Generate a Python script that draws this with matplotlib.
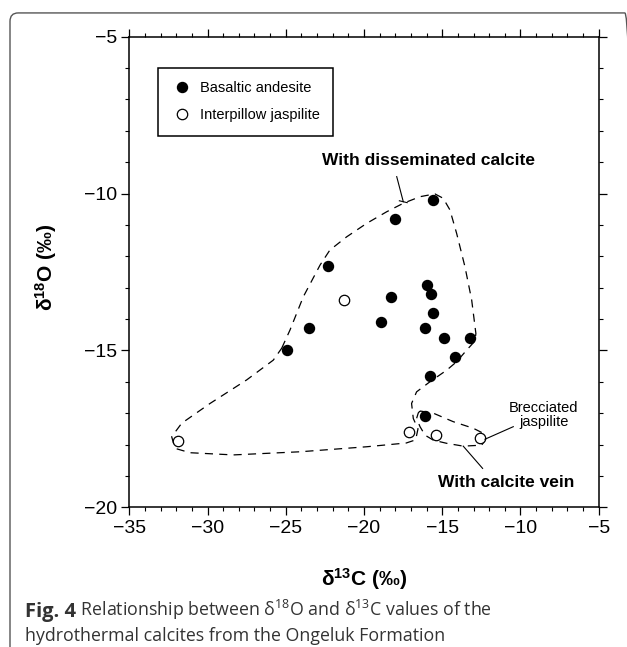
import numpy as np
import matplotlib
matplotlib.use('Agg')
import matplotlib.pyplot as plt
from matplotlib.patches import FancyBboxPatch
from matplotlib.ticker import MultipleLocator

plt.rcParams['font.family'] = ['Liberation Sans', 'DejaVu Sans']
plt.rcParams['mathtext.default'] = 'regular'

# 玄武安山岩 (filled) / 枕间碧玉岩 (open)
basalt_c = [-15.6, -18.0, -22.3, -16.0, -15.7, -18.3, -15.6, -18.9,
            -23.5, -16.1, -14.9, -13.2, -24.9, -14.2, -15.8, -16.1]
basalt_o = [-10.2, -10.8, -12.3, -12.9, -13.2, -13.3, -13.8, -14.1,
            -14.3, -14.3, -14.6, -14.6, -15.0, -15.2, -15.8, -17.1]
jasp_c = [-21.3, -31.9, -17.1, -15.4, -12.6]
jasp_o = [-13.4, -17.9, -17.6, -17.7, -17.8]

# 包络线
outer_c = [-25.26, -24.73, -23.88, -22.81, -22.18, -21.11, -19.83, -18.55,
           -17.49, -16.42, -15.47, -14.94, -14.51, -14.08, -13.55, -13.12,
           -12.85, -12.91, -13.44, -14.08, -14.72, -15.79, -16.64, -16.96,
           -16.85, -16.55, -16.70, -17.30, -19.83, -24.09, -28.35, -31.12,
           -32.08, -32.29, -31.65, -29.84, -27.50, -25.80, -25.26]
outer_o = [-14.93, -14.35, -13.29, -12.28, -11.80, -11.38, -10.95, -10.58,
           -10.31, -10.10, -10.01, -10.15, -10.52, -11.27, -12.33, -13.39,
           -14.46, -14.70, -14.99, -15.36, -15.63, -16.00, -16.32, -16.69,
           -17.17, -17.50, -17.85, -17.95, -18.07, -18.23, -18.33, -18.26,
           -18.12, -17.75, -17.32, -16.69, -15.94, -15.31, -14.93]
vein_c = [-16.42, -15.57, -14.30, -13.02, -12.38, -12.27, -12.48, -13.66,
          -14.72, -15.57, -16.10, -16.42, -16.64, -16.53, -16.42]
vein_o = [-16.93, -17.00, -17.27, -17.48, -17.64, -17.86, -18.02, -18.05,
          -17.96, -17.86, -17.70, -17.43, -17.17, -16.99, -16.93]

# 标注
dissem_text = (-15.9, -8.95)
dissem_line = ([-17.91, -17.49], [-9.46, -10.26])
brec_text = (-8.5, -17.05)
brec_line = ([-10.46, -12.27], [-17.43, -17.83])
vein_text = (-10.9, -19.2)
vein_line = ([-12.42, -13.66], [-18.76, -18.05])

fig = plt.figure(figsize=(6.27, 6.47), dpi=100)
ax = fig.add_axes([0.2062, 0.2159, 0.7487, 0.7274])

dash = (0, (6.5, 5))
ax.plot(outer_c, outer_o, color='black', lw=0.9, linestyle=dash)
ax.plot(vein_c, vein_o, color='black', lw=0.9, linestyle=dash)

ax.plot(basalt_c, basalt_o, 'o', color='black', ms=7.2, ls='none',
        label='Basaltic andesite')
ax.plot(jasp_c, jasp_o, 'o', mfc='white', mec='black', mew=0.9, ms=7.5,
        ls='none', label='Interpillow jaspilite')

ax.text(*dissem_text, 'With disseminated calcite', fontsize=12.5,
        fontweight='bold', ha='center', va='center')
ax.plot(*dissem_line, color='black', lw=0.8)
ax.plot([dissem_line[0][1] - 0.25, dissem_line[0][1] + 0.25],
        [dissem_line[1][1] + 0.03, dissem_line[1][1] - 0.03], color='black', lw=0.8)
ax.text(*brec_text, 'Brecciated\njaspilite', fontsize=10.5, ha='center',
        va='center', linespacing=1.0)
ax.plot(*brec_line, color='black', lw=0.8)
ax.text(*vein_text, 'With calcite vein', fontsize=12.5, fontweight='bold',
        ha='center', va='center')
ax.plot(*vein_line, color='black', lw=0.8)

ax.set_xlim(-35, -5)
ax.set_ylim(-20, -5)
ax.xaxis.set_major_locator(MultipleLocator(5))
ax.xaxis.set_minor_locator(MultipleLocator(1))
ax.yaxis.set_major_locator(MultipleLocator(5))
ax.yaxis.set_minor_locator(MultipleLocator(1))
ax.tick_params(which='both', direction='out', top=True, right=True,
               labelsize=14, pad=3)
ax.tick_params(which='major', length=6, width=0.9)
ax.tick_params(which='minor', length=3, width=0.8)
for s in ax.spines.values():
    s.set_linewidth(1.1)

ax.set_xlabel('δ$^{13}$C (‰)', fontsize=15, fontweight='bold')
ax.set_ylabel('δ$^{18}$O (‰)', fontsize=15, fontweight='bold')
ax.xaxis.set_label_coords(0.5, -0.125)
ax.yaxis.set_label_coords(-0.15, 0.51)

leg = ax.legend(loc='upper left', bbox_to_anchor=(0.0605, 0.933),
                borderaxespad=0, fancybox=False, edgecolor='black',
                fontsize=10.5, borderpad=0.9, handlelength=1.6,
                handletextpad=0.4, labelspacing=0.9, numpoints=1,
                framealpha=1)
leg.get_frame().set_linewidth(1.1)

# 外框
border = FancyBboxPatch((10 / 627, -0.05), 623 / 627, 0.98 + 0.05,
                        boxstyle='round,pad=0,rounding_size=0.013',
                        transform=fig.transFigure, fill=False,
                        edgecolor='#555555', lw=1.0)
fig.patches.append(border)

cap_font = ['Open Sans', 'DejaVu Sans']
t1 = fig.text(25 / 627, 1 - 622 / 647, 'Fig. 4', family=cap_font,
              fontweight='bold', fontsize=14.5, color='#333333', va='bottom')
ax.annotate(' Relationship between δ$^{18}$O and δ$^{13}$C values of the',
            xy=(1, 0), xycoords=t1, va='bottom', ha='left',
            family=cap_font, fontsize=12.8, color='#333333',
            annotation_clip=False)
fig.text(25 / 627, 1 - 645 / 647,
         'hydrothermal calcites from the Ongeluk Formation',
         family=cap_font, fontsize=12.8, color='#333333', va='bottom')

fig.savefig('out.png', dpi=100)
